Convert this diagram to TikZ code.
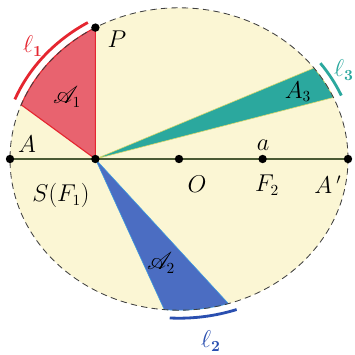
\documentclass[tikz,border=0pt]{standalone}
\usepackage{amsmath,amssymb}
\usepackage{mathrsfs}
\usepackage{xcolor}
\usepackage{tikz}
\usetikzlibrary{calc}
\definecolor{cream}{HTML}{FBF6D4}
\definecolor{sectred}{HTML}{E8636F}
\definecolor{edgered}{HTML}{E52630}
\definecolor{sectteal}{HTML}{2BA89E}
\definecolor{edgeteal}{HTML}{D9D86A}
\definecolor{sectblue}{HTML}{4B6DC2}
\definecolor{edgeblue}{HTML}{3A9BE0}
\definecolor{arcblue}{HTML}{2A4FB0}
\definecolor{axisgreen}{HTML}{4A5A34}

\begin{document}
\begin{tikzpicture}[
  font=\fontsize{16}{19}\selectfont,
  pt/.style={circle,fill=black,inner sep=0pt,minimum size=2.1mm},
  lbl/.style={inner sep=1pt},
  orbit/.style={draw=black!75,dash pattern=on 4.5pt off 3pt,semithick},
  larc/.style={line width=2pt}
]
\useasboundingbox (-4.475,-4.9) rectangle (4.375,3.975);
% ellipse and points
\coordinate (O)  at (0,0);
\coordinate (F1) at (-2.09,0);
\coordinate (F2) at (2.09,0);
\coordinate (A)  at (-4.225,0);
\coordinate (Ap) at (4.225,0);
\coordinate (P)  at (119.65:4.225 and 3.78);
\fill[cream] (O) ellipse [x radius=4.225,y radius=3.78];
% sectors
\filldraw[fill=sectred,draw=edgered,thick] (F1) -- (P)
  arc[start angle=119.65,end angle=159,x radius=4.225,y radius=3.78] -- cycle;
\filldraw[fill=sectteal,draw=edgeteal] (F1) -- (24:4.225 and 3.78)
  arc[start angle=24,end angle=37,x radius=4.225,y radius=3.78] -- cycle;
\filldraw[fill=sectblue,draw=edgeblue] (F1) -- (265:4.225 and 3.78)
  arc[start angle=265,end angle=287,x radius=4.225,y radius=3.78] -- cycle;
\draw[axisgreen,thick] (A) -- (Ap);
\draw[orbit] (O) ellipse [x radius=4.225,y radius=3.78];
% arcs l1 l2 l3
\draw[larc,edgered] (121:4.425 and 3.98)
  arc[start angle=121,end angle=158,x radius=4.425,y radius=3.98];
\draw[larc,sectteal] (23.5:4.425 and 3.98)
  arc[start angle=23.5,end angle=37,x radius=4.425,y radius=3.98];
\draw[larc,arcblue] (267:4.425 and 3.98)
  arc[start angle=267,end angle=289,x radius=4.425,y radius=3.98];
\node[pt] (nA)  at (A)  {};
\node[pt] (nF1) at (F1) {};
\node[pt] (nO)  at (O)  {};
\node[pt] (nF2) at (F2) {};
\node[pt] (nAp) at (Ap) {};
\node[pt] (nP)  at (P)  {};
% labels
\node[lbl] (tP)  at (-1.55,3.0)    {$P$};
\node[lbl] (tA)  at (-3.8,0.36)    {$A$};
\node[lbl] (tO)  at (0.45,-0.62)   {$O$};
\node[lbl] (ta)  at (2.1,0.34)     {$a$};
\node[lbl] (tF2) at (2.2,-0.66)    {$F_2$};
\node[lbl] (tAp) at (3.72,-0.64)   {$A\,'$};
\node[lbl] (tS)  at (-2.95,-0.92)  {$S(F_1)$};
\node[lbl] (tA1) at (-2.8,1.55)    {$\mathscr{A}_1$};
\node[lbl] (tA3) at (2.975,1.68)   {$A_3$};
\node[lbl] (tA2) at (-0.45,-2.6)   {$\mathscr{A}_2$};
\node[lbl,text=edgered]  (tl1) at (-3.65,2.82) {$\ell_{\mathbf{1}}$};
\node[lbl,text=sectteal] (tl3) at (4.12,2.22)  {$\ell_{\mathbf{3}}$};
\node[lbl,text=arcblue]  (tl2) at (0.8,-4.55)  {$\ell_{\mathbf{2}}$};
\end{tikzpicture}
\end{document}
